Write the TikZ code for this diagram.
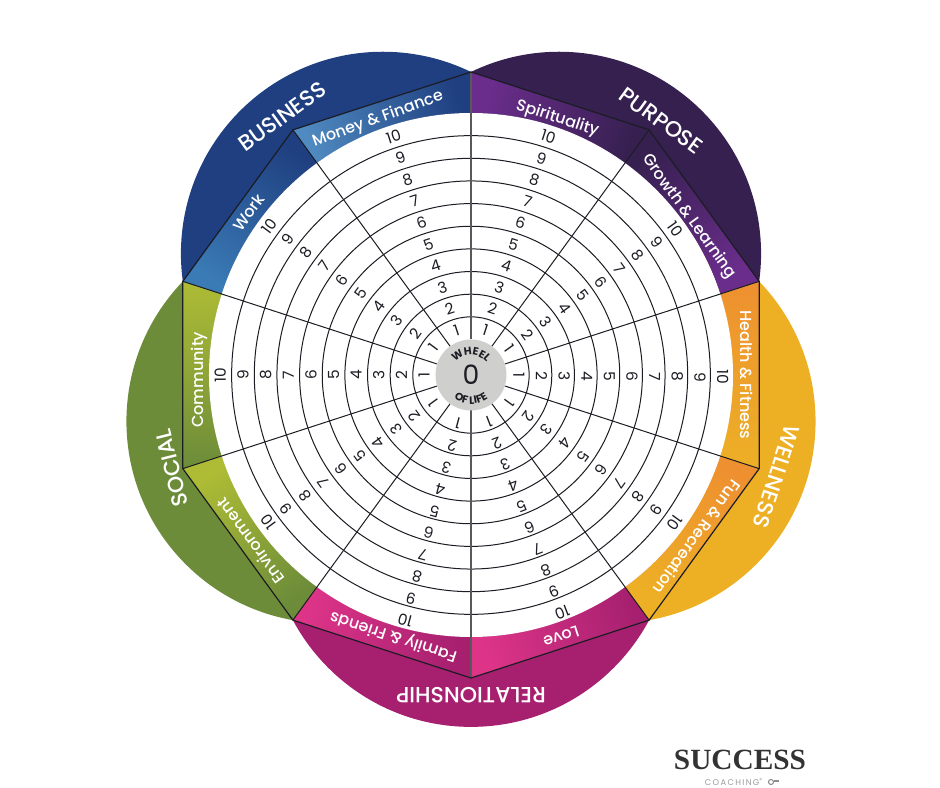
\documentclass[tikz,border=0pt]{standalone}
\usepackage{fontspec}
\usetikzlibrary{decorations.text}
\newfontfamily\wheelfont{Poppins}
\newfontfamily\wheelmed{Poppins Medium}
\newfontfamily\logofont{Liberation Serif}
\definecolor{busdark}{HTML}{1F3F80}
\definecolor{bussoft}{HTML}{4F8AC0}
\definecolor{busmid}{HTML}{3A7AB5}
\definecolor{purdark}{HTML}{35204F}
\definecolor{pursoft}{HTML}{6B2D8C}
\definecolor{wellgold}{HTML}{EDB025}
\definecolor{wellorange}{HTML}{EE9030}
\definecolor{reldark}{HTML}{A6206F}
\definecolor{relsoft}{HTML}{DD3488}
\definecolor{socdark}{HTML}{6C8C39}
\definecolor{socsoft}{HTML}{AEBC35}
\definecolor{hubgray}{HTML}{CFCFCD}
\definecolor{inkline}{HTML}{1C1C24}
\tikzset{
    ringline/.style={line width=0.75pt, color=inkline},
    spokeline/.style={line width=0.75pt, color=inkline},
    midline/.style={line width=1pt, color=black!65},
    ringnum/.style={inner sep=0pt, text=inkline, font=\wheelfont\fontsize{11.5}{12}\selectfont},
    bandlabel/.style={inner sep=0pt, text=white, text height=8.4pt, text depth=0pt,
        font=\wheelmed\fontsize{12}{12}\selectfont},
    petallabel/.style={inner sep=0pt, text=white, text height=11.5pt, text depth=0pt,
        font=\wheelmed\fontsize{16.5}{17}\selectfont},
}
\newcommand{\hubfont}{\wheelfont\bfseries\fontsize{8}{8}\selectfont\color{inkline}}
\begin{document}
\begin{tikzpicture}[x=0.75pt, y=0.75pt]
    \useasboundingbox (-471,-413) rectangle (469,375);
    \foreach \a/\c in {126/busdark, 54/purdark, -18/wellgold, -90/reldark, 198/socdark}
        \fill[\c] (\a:150) circle[radius=201.9];
    \foreach \a/\ca/\cb in {90/bussoft/busdark, 126/busmid/busdark, 54/pursoft/purdark,
        18/purdark/pursoft, -18/wellorange/wellgold, -54/wellorange/wellgold,
        -90/reldark/relsoft, -126/reldark/relsoft, 198/socdark/socsoft, 162/socdark/socsoft} {
        \pgfmathsetmacro{\sa}{\a+18}
        \pgfmathsetmacro{\b}{\a+36}
        \shade[top color=\ca, bottom color=\cb, shading angle=\sa]
            (\a:303) -- (\b:303) -- (\b:262) arc[start angle=\b, end angle=\a, radius=262] -- cycle;
    }
    \fill[white] (0,0) circle[radius=262];
    \foreach \k in {1,...,9}
        \draw[ringline] (0,0) circle[radius={35.5+\k*22.65}];
    \foreach \a in {18,54,126,162,198,234,306,342}
        \draw[spokeline] (\a:35.5) -- (\a:303);
    \draw[midline] (90:35.5) -- (90:303);
    \draw[midline] (270:35.5) -- (270:303);
    \foreach \a in {18,54,...,342}
        \coordinate (v\a) at (\a:303);
    \draw[ringline, line width=0.9pt] (v18) -- (v54) -- (v90) -- (v126) -- (v162) -- (v198)
        -- (v234) -- (v270) -- (v306) -- (v342) -- cycle;
    \fill[hubgray] (0,0) circle[radius=35.5];
    \foreach \s/\t/\d in {108/108/0,144/143.5/0,180/180/0,216/216/0,252/255/3.5,
        288/291/3.5,324/324/1,360/359.5/1,396/395.5/0,432/432/0}
        \foreach \k in {1,...,10} {
            \pgfmathsetmacro{\r}{35.5+(\k-0.5)*22.65+\d}
            \node[ringnum, rotate=\t-90] (n\s-\k) at (\t:\r) {\k};
        }
    \node[ringnum, font=\wheelfont\fontsize{20}{20}\selectfont] (zero) at (0,0) {0};
    \path[decorate, decoration={text along path, text align=center, text={|\hubfont|WHEEL}}]
        (170:20) arc[start angle=170, end angle=10, radius=20];
    \path[decorate, decoration={text along path, text align=center, text={|\hubfont|OF LIFE}}]
        (195:29) arc[start angle=195, end angle=345, radius=29];
    \node[bandlabel, rotate=20] (money) at (110:273.6) {Money \& Finance};
    \node[bandlabel, rotate=54] (work) at (143.9:275) {Work};
    \node[bandlabel, rotate=-18] (spirit) at (71.4:272) {Spirituality};
    \node[bandlabel, rotate=-54] (growth) at (36:271) {Growth \& Learning};
    \node[bandlabel, rotate=-90] (health) at (0:275) {Health \& Fitness};
    \node[bandlabel, rotate=-126] (fun) at (-35.6:278) {Fun \& Recreation};
    \node[bandlabel, rotate=-162] (love) at (-71:277) {Love};
    \node[bandlabel, rotate=162] (family) at (-106.5:274) {Family \& Friends};
    \node[bandlabel, rotate=126] (environ) at (-143:276) {Environment};
    \node[bandlabel, rotate=90] (commun) at (181:273) {Community};
    \node[petallabel, rotate=36] (business) at (126.2:320) {BUSINESS};
    \node[petallabel, rotate=-36] (purpose) at (53.2:317.5) {PURPOSE};
    \node[petallabel, rotate=-108] (wellness) at (-18.4:322) {WELLNESS};
    \node[petallabel, rotate=180] (relation) at (-90:320) {RELATIONSHIP};
    \node[petallabel, rotate=104] (social) at (197.3:313.5) {SOCIAL};
    \node[inner sep=0pt, text=black!80, font=\logofont\bfseries\fontsize{22}{22}\selectfont] (logo) at (269,-385) {SUCCESS};
    \node[inner sep=0pt, text=black!40, font=\wheelfont\fontsize{6.2}{7}\selectfont] (coach) at (263,-407)
        {C\,O\,A\,C\,H\,I\,N\,G\textsuperscript{\textregistered}};
    \draw[black!45, line width=0.8pt] (300,-407) circle[radius=2.5];
    \fill[black!45] (303,-405.5) rectangle (308,-407.5);
\end{tikzpicture}
\end{document}
